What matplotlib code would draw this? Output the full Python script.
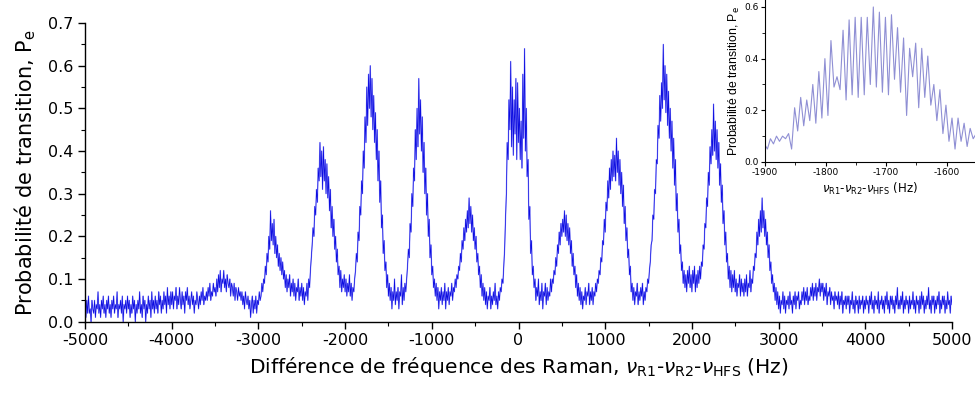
import numpy as np
import matplotlib
matplotlib.use("Agg")
import matplotlib.pyplot as plt
from matplotlib.ticker import MultipleLocator, FormatStrFormatter

plt.rcParams['font.family'] = ['DejaVu Sans']
plt.rcParams['axes.unicode_minus'] = False
plt.rcParams['mathtext.fontset'] = 'dejavusans'

# ---- main spectrum: Raman detuning scan (-5000 .. 5000 Hz, 10 Hz step) ----
freq_start_hz = -5000
freq_stop_hz = 5000
prob_main = [
    # -5000 .. -4510
    0.04, 0.01, 0.05, 0.02, 0.06, 0.02, 0.03, 0.00, 0.05, 0.03,
    0.02, 0.05, 0.01, 0.04, 0.03, 0.07, 0.02, 0.04, 0.01, 0.05,
    0.03, 0.06, 0.02, 0.04, 0.01, 0.05, 0.03, 0.06, 0.02, 0.04,
    0.01, 0.05, 0.03, 0.06, 0.02, 0.04, 0.03, 0.07, 0.01, 0.04,
    0.03, 0.05, 0.02, 0.06, 0.00, 0.04, 0.03, 0.05, 0.02, 0.06,
    # -4500 .. -4010
    0.03, 0.05, 0.01, 0.04, 0.02, 0.06, 0.03, 0.05, 0.00, 0.04,
    0.02, 0.05, 0.03, 0.07, 0.02, 0.04, 0.01, 0.06, 0.03, 0.05,
    0.00, 0.04, 0.02, 0.06, 0.03, 0.05, 0.01, 0.07, 0.03, 0.05,
    0.02, 0.06, 0.03, 0.05, 0.02, 0.07, 0.04, 0.06, 0.02, 0.05,
    0.03, 0.07, 0.04, 0.06, 0.02, 0.08, 0.04, 0.06, 0.03, 0.07,
    # -4000 .. -3510
    0.04, 0.07, 0.03, 0.06, 0.05, 0.08, 0.03, 0.06, 0.04, 0.08,
    0.05, 0.03, 0.07, 0.04, 0.06, 0.02, 0.07, 0.05, 0.08, 0.04,
    0.06, 0.03, 0.05, 0.07, 0.04, 0.06, 0.02, 0.05, 0.04, 0.07,
    0.05, 0.03, 0.06, 0.04, 0.07, 0.05, 0.08, 0.04, 0.06, 0.05,
    0.07, 0.05, 0.08, 0.06, 0.09, 0.05, 0.07, 0.06, 0.09, 0.07,
    # -3500 .. -3010
    0.08, 0.06, 0.10, 0.07, 0.11, 0.08, 0.12, 0.07, 0.10, 0.09,
    0.12, 0.08, 0.10, 0.07, 0.11, 0.09, 0.08, 0.10, 0.06, 0.09,
    0.08, 0.06, 0.09, 0.05, 0.08, 0.07, 0.05, 0.08, 0.06, 0.07,
    0.05, 0.07, 0.04, 0.06, 0.03, 0.07, 0.05, 0.04, 0.06, 0.03,
    0.05, 0.01, 0.04, 0.06, 0.02, 0.05, 0.03, 0.06, 0.02, 0.05,
    # -3000 .. -2510
    0.04, 0.07, 0.05, 0.06, 0.09, 0.07, 0.10, 0.09, 0.13, 0.11,
    0.16, 0.14, 0.20, 0.17, 0.26, 0.19, 0.23, 0.18, 0.24, 0.16,
    0.20, 0.15, 0.18, 0.13, 0.16, 0.12, 0.15, 0.11, 0.14, 0.10,
    0.12, 0.08, 0.11, 0.07, 0.10, 0.08, 0.11, 0.06, 0.09, 0.07,
    0.10, 0.06, 0.09, 0.05, 0.08, 0.07, 0.10, 0.05, 0.08, 0.06,
    # -2500 .. -2010
    0.09, 0.05, 0.08, 0.04, 0.07, 0.06, 0.09, 0.05, 0.10, 0.08,
    0.12, 0.15, 0.18, 0.22, 0.20, 0.27, 0.25, 0.31, 0.28, 0.36,
    0.33, 0.42, 0.34, 0.40, 0.31, 0.41, 0.33, 0.38, 0.30, 0.37,
    0.29, 0.34, 0.26, 0.31, 0.22, 0.27, 0.20, 0.24, 0.17, 0.20,
    0.14, 0.17, 0.11, 0.13, 0.08, 0.12, 0.07, 0.10, 0.08, 0.11,
    # -2000 .. -1510
    0.07, 0.10, 0.06, 0.09, 0.07, 0.11, 0.06, 0.09, 0.05, 0.08,
    0.07, 0.10, 0.12, 0.16, 0.14, 0.21, 0.19, 0.27, 0.25, 0.33,
    0.30, 0.40, 0.36, 0.48, 0.42, 0.55, 0.46, 0.58, 0.50, 0.60,
    0.48, 0.57, 0.45, 0.53, 0.42, 0.49, 0.38, 0.45, 0.33, 0.40,
    0.28, 0.33, 0.22, 0.25, 0.16, 0.19, 0.12, 0.14, 0.08, 0.11,
    # -1500 .. -1010
    0.06, 0.09, 0.05, 0.08, 0.03, 0.07, 0.05, 0.10, 0.04, 0.07,
    0.05, 0.08, 0.03, 0.07, 0.06, 0.11, 0.04, 0.08, 0.05, 0.09,
    0.07, 0.10, 0.13, 0.17, 0.15, 0.23, 0.21, 0.30, 0.27, 0.36,
    0.33, 0.45, 0.38, 0.50, 0.41, 0.57, 0.44, 0.52, 0.40, 0.48,
    0.35, 0.42, 0.30, 0.36, 0.25, 0.30, 0.20, 0.24, 0.15, 0.18,
    # -1000 .. -510
    0.11, 0.13, 0.08, 0.10, 0.06, 0.09, 0.05, 0.08, 0.03, 0.07,
    0.05, 0.08, 0.04, 0.07, 0.05, 0.09, 0.03, 0.07, 0.05, 0.08,
    0.04, 0.07, 0.06, 0.09, 0.05, 0.08, 0.07, 0.10, 0.08, 0.11,
    0.10, 0.13, 0.12, 0.16, 0.14, 0.19, 0.17, 0.22, 0.19, 0.24,
    0.21, 0.26, 0.22, 0.29, 0.23, 0.27, 0.21, 0.25, 0.19, 0.22,
    # -500 .. -10
    0.17, 0.20, 0.14, 0.16, 0.11, 0.13, 0.08, 0.11, 0.06, 0.09,
    0.05, 0.08, 0.04, 0.07, 0.03, 0.06, 0.05, 0.08, 0.03, 0.06,
    0.04, 0.07, 0.05, 0.09, 0.04, 0.06, 0.03, 0.07, 0.05, 0.08,
    0.07, 0.10, 0.09, 0.13, 0.17, 0.24, 0.30, 0.42, 0.38, 0.52,
    0.45, 0.61, 0.41, 0.55, 0.39, 0.52, 0.44, 0.57, 0.38, 0.56,
    # 0 .. 490
    0.42, 0.50, 0.38, 0.47, 0.36, 0.58, 0.43, 0.64, 0.40, 0.50,
    0.34, 0.38, 0.24, 0.27, 0.16, 0.19, 0.11, 0.13, 0.08, 0.10,
    0.05, 0.08, 0.06, 0.10, 0.04, 0.07, 0.05, 0.09, 0.03, 0.07,
    0.06, 0.09, 0.04, 0.08, 0.05, 0.07, 0.06, 0.10, 0.07, 0.10,
    0.09, 0.12, 0.11, 0.15, 0.13, 0.18, 0.16, 0.21, 0.18, 0.23,
    # 500 .. 990
    0.20, 0.24, 0.21, 0.26, 0.20, 0.25, 0.19, 0.23, 0.18, 0.22,
    0.16, 0.19, 0.13, 0.16, 0.11, 0.13, 0.08, 0.11, 0.06, 0.09,
    0.05, 0.08, 0.04, 0.07, 0.03, 0.06, 0.05, 0.08, 0.04, 0.07,
    0.06, 0.09, 0.04, 0.07, 0.05, 0.08, 0.04, 0.07, 0.06, 0.09,
    0.07, 0.10, 0.09, 0.12, 0.11, 0.15, 0.14, 0.19, 0.18, 0.24,
    # 1000 .. 1490
    0.21, 0.28, 0.26, 0.33, 0.29, 0.36, 0.31, 0.38, 0.33, 0.40,
    0.34, 0.39, 0.33, 0.43, 0.35, 0.40, 0.32, 0.38, 0.30, 0.35,
    0.27, 0.32, 0.23, 0.27, 0.19, 0.22, 0.15, 0.17, 0.11, 0.13,
    0.07, 0.09, 0.05, 0.08, 0.04, 0.07, 0.06, 0.09, 0.04, 0.07,
    0.05, 0.08, 0.06, 0.09, 0.04, 0.07, 0.05, 0.08, 0.07, 0.10,
    # 1500 .. 1990
    0.09, 0.12, 0.14, 0.18, 0.19, 0.25, 0.24, 0.31, 0.30, 0.38,
    0.37, 0.46, 0.43, 0.53, 0.47, 0.56, 0.50, 0.65, 0.52, 0.60,
    0.49, 0.58, 0.46, 0.54, 0.43, 0.50, 0.40, 0.47, 0.36, 0.43,
    0.32, 0.38, 0.26, 0.30, 0.21, 0.24, 0.16, 0.18, 0.12, 0.14,
    0.09, 0.12, 0.08, 0.11, 0.07, 0.12, 0.09, 0.13, 0.08, 0.11,
    # 2000 .. 2490
    0.07, 0.12, 0.09, 0.13, 0.07, 0.11, 0.08, 0.12, 0.09, 0.13,
    0.10, 0.14, 0.13, 0.18, 0.17, 0.23, 0.22, 0.29, 0.27, 0.35,
    0.32, 0.41, 0.37, 0.45, 0.39, 0.51, 0.40, 0.47, 0.38, 0.45,
    0.36, 0.42, 0.32, 0.37, 0.28, 0.32, 0.23, 0.26, 0.18, 0.21,
    0.14, 0.16, 0.10, 0.13, 0.08, 0.12, 0.07, 0.11, 0.08, 0.12,
    # 2500 .. 2990
    0.07, 0.10, 0.06, 0.09, 0.08, 0.11, 0.06, 0.10, 0.07, 0.09,
    0.06, 0.10, 0.07, 0.11, 0.06, 0.09, 0.08, 0.12, 0.07, 0.10,
    0.09, 0.13, 0.12, 0.16, 0.15, 0.21, 0.18, 0.24, 0.20, 0.26,
    0.21, 0.29, 0.22, 0.26, 0.20, 0.24, 0.18, 0.21, 0.15, 0.18,
    0.12, 0.14, 0.09, 0.11, 0.07, 0.09, 0.05, 0.08, 0.04, 0.07,
    # 3000 .. 3490
    0.03, 0.06, 0.02, 0.05, 0.04, 0.07, 0.03, 0.06, 0.02, 0.05,
    0.04, 0.06, 0.03, 0.07, 0.04, 0.05, 0.02, 0.06, 0.04, 0.07,
    0.03, 0.06, 0.05, 0.07, 0.03, 0.05, 0.04, 0.07, 0.05, 0.08,
    0.04, 0.07, 0.05, 0.08, 0.04, 0.06, 0.05, 0.08, 0.06, 0.09,
    0.05, 0.08, 0.06, 0.09, 0.05, 0.08, 0.07, 0.10, 0.06, 0.09,
    # 3500 .. 3990
    0.07, 0.09, 0.05, 0.08, 0.06, 0.09, 0.04, 0.07, 0.06, 0.08,
    0.04, 0.07, 0.05, 0.06, 0.03, 0.07, 0.05, 0.06, 0.04, 0.07,
    0.03, 0.06, 0.04, 0.07, 0.02, 0.05, 0.04, 0.06, 0.03, 0.06,
    0.04, 0.06, 0.02, 0.05, 0.04, 0.07, 0.03, 0.05, 0.02, 0.06,
    0.04, 0.05, 0.02, 0.06, 0.03, 0.05, 0.04, 0.06, 0.02, 0.05,
    # 4000 .. 4490
    0.03, 0.06, 0.04, 0.05, 0.02, 0.06, 0.04, 0.07, 0.03, 0.05,
    0.02, 0.06, 0.04, 0.05, 0.03, 0.07, 0.02, 0.05, 0.04, 0.06,
    0.03, 0.05, 0.02, 0.06, 0.04, 0.07, 0.03, 0.05, 0.02, 0.06,
    0.04, 0.06, 0.03, 0.05, 0.02, 0.06, 0.04, 0.08, 0.03, 0.05,
    0.03, 0.06, 0.04, 0.07, 0.02, 0.05, 0.03, 0.06, 0.04, 0.05,
    # 4500 .. 5000
    0.02, 0.06, 0.03, 0.05, 0.04, 0.07, 0.03, 0.05, 0.02, 0.06,
    0.04, 0.05, 0.02, 0.06, 0.03, 0.07, 0.04, 0.06, 0.02, 0.05,
    0.03, 0.06, 0.04, 0.08, 0.03, 0.05, 0.02, 0.06, 0.04, 0.06,
    0.02, 0.05, 0.03, 0.06, 0.04, 0.07, 0.02, 0.05, 0.03, 0.06,
    0.04, 0.06, 0.02, 0.05, 0.03, 0.07, 0.04, 0.05, 0.02, 0.06,
    0.04,
]

# ---- inset: zoom on the -1720 Hz peak (5 Hz step) ----
inset_start_hz = -1901
inset_stop_hz = -1551
prob_inset = [
    0.07, 0.05, 0.09, 0.07, 0.10, 0.08, 0.10, 0.09, 0.11, 0.05,
    0.21, 0.12, 0.25, 0.14, 0.24, 0.16, 0.30, 0.15, 0.35, 0.17,
    0.40, 0.18, 0.47, 0.29, 0.33, 0.28, 0.51, 0.24, 0.55, 0.26,
    0.56, 0.25, 0.56, 0.26, 0.56, 0.30, 0.60, 0.29, 0.58, 0.27,
    0.56, 0.26, 0.57, 0.32, 0.52, 0.27, 0.48, 0.18, 0.44, 0.33,
    0.46, 0.21, 0.44, 0.25, 0.41, 0.22, 0.30, 0.16, 0.28, 0.11,
    0.22, 0.08, 0.17, 0.05, 0.17, 0.08, 0.15, 0.06, 0.13, 0.09,
    0.11,
]

x_main = np.linspace(freq_start_hz, freq_stop_hz, len(prob_main))
x_inset = np.linspace(inset_start_hz, inset_stop_hz, len(prob_inset))

fig = plt.figure(figsize=(9.75, 3.97), dpi=100)
ax = fig.add_axes([0.0872, 0.1897, 0.8892, 0.7523])
ax.plot(x_main, prob_main, color='#7070ff', lw=1.0, alpha=0.6)
ax.plot(x_main, prob_main, color='#0c0ce0', lw=0.5)
ax.set_xlim(-5000, 5000)
ax.set_ylim(0, 0.7)
ax.xaxis.set_major_locator(MultipleLocator(1000))
ax.xaxis.set_minor_locator(MultipleLocator(500))
ax.yaxis.set_major_locator(MultipleLocator(0.1))
ax.yaxis.set_minor_locator(MultipleLocator(0.05))
ax.yaxis.set_major_formatter(FormatStrFormatter('%.1f'))
for s in ('top', 'right'):
    ax.spines[s].set_visible(False)
for s in ('left', 'bottom'):
    ax.spines[s].set_linewidth(1.0)
ax.tick_params(which='major', direction='out', length=5, width=1, labelsize=11.5)
ax.tick_params(which='minor', direction='out', length=3, width=0.8)
ax.set_xlabel('Différence de fréquence des Raman, '
              r'$\nu_{\mathrm{R1}}$-$\nu_{\mathrm{R2}}$-$\nu_{\mathrm{HFS}}$ (Hz)',
              fontsize=14.5, labelpad=5)
ax.set_ylabel(r'Probabilité de transition, P$_{\mathrm{e}}$', fontsize=15, labelpad=7)

# inset
axi = fig.add_axes([0.7846, 0.592, 0.2154, 0.408])
axi.plot(x_inset, prob_inset, color='#8f8fd4', lw=0.8)
axi.set_xlim(-1900, -1553)
axi.set_ylim(0, 0.627)
axi.xaxis.set_major_locator(MultipleLocator(100))
axi.xaxis.set_minor_locator(MultipleLocator(50))
axi.yaxis.set_major_locator(MultipleLocator(0.2))
axi.yaxis.set_minor_locator(MultipleLocator(0.1))
axi.yaxis.set_major_formatter(FormatStrFormatter('%.1f'))
for s in ('top', 'right'):
    axi.spines[s].set_visible(False)
axi.tick_params(which='major', direction='out', length=3, width=0.8, labelsize=6.5, pad=1.5)
axi.tick_params(which='minor', direction='out', length=2, width=0.6)
axi.set_xlabel(r'$\nu_{\mathrm{R1}}$-$\nu_{\mathrm{R2}}$-$\nu_{\mathrm{HFS}}$ (Hz)',
               fontsize=8.5, labelpad=3)
axi.set_ylabel(r'Probabilité de transition, P$_{\mathrm{e}}$', fontsize=9.5,
               family=['Liberation Sans', 'DejaVu Sans'], labelpad=2)
axi.yaxis.label.set_fontsize(8.8)

fig.savefig('out.png', dpi=100)
